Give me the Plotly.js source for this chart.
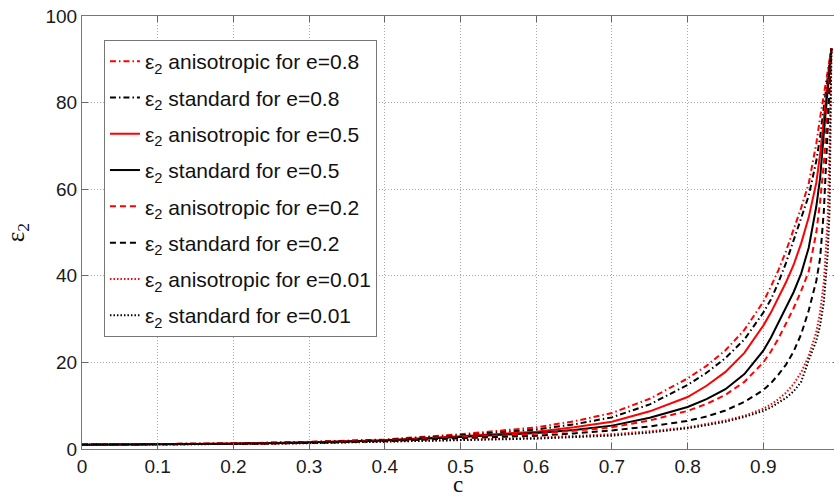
<!DOCTYPE html>
<html>
<head>
<meta charset="utf-8">
<script src="https://cdn.plot.ly/plotly-3.0.1.min.js"></script>
<style>
  html, body { margin: 0; padding: 0; overflow: hidden; background: #fff; }
  #chart { width: 840px; height: 493px; }
</style>
</head>
<body>
<div id="chart"></div>
<script>
// concentration c
const cValues = [0, 0.1, 0.2, 0.3, 0.4, 0.5, 0.6, 0.65, 0.7, 0.75, 0.8, 0.825, 0.85, 0.875, 0.9, 0.91, 0.92, 0.93, 0.94, 0.95, 0.96, 0.97, 0.975, 0.98, 0.985, 0.9875, 0.99];

// epsilon_2 values
const anisE08 = [1.0, 1.12, 1.3, 1.65, 2.2, 3.4, 5.0, 6.4, 8.3, 11.6, 16.3, 19.2, 22.8, 27.5, 34, 37.5, 41.3, 45.7, 50.5, 55.7, 61.3, 70.5, 76.5, 82, 87, 89.8, 92.5];
const stdE08  = [1.0, 1.1, 1.28, 1.6, 2.1, 3.15, 4.5, 5.7, 7.3, 10.3, 14.8, 17.6, 21, 25.3, 31.5, 34.5, 38.5, 43, 48, 53, 58.5, 66.5, 72, 79, 85.5, 89, 92.5];
const anisE05 = [1.0, 1.1, 1.25, 1.55, 2.0, 2.95, 4.0, 5.0, 6.3, 8.7, 12, 14.6, 17.8, 22.2, 28.5, 31.5, 35, 38.5, 42.5, 47.5, 53.5, 61.5, 68, 77, 84.5, 88.5, 92.5];
const stdE05  = [1.0, 1.08, 1.22, 1.5, 1.95, 2.8, 3.7, 4.4, 5.4, 7.2, 9.7, 11.5, 13.8, 17.3, 22.7, 25.7, 29.2, 32.6, 36.2, 40.5, 46.5, 56, 62.5, 73, 83, 87.8, 92.5];
const anisE02 = [1.0, 1.07, 1.2, 1.45, 1.9, 2.7, 3.5, 4.2, 5.0, 6.6, 8.8, 10.4, 12.5, 15.5, 20, 22.5, 25.5, 29, 32.5, 36.5, 41, 50, 57, 66, 79, 85.8, 92.5];
const stdE02  = [1.0, 1.06, 1.18, 1.4, 1.8, 2.5, 3.05, 3.6, 4.3, 5.2, 6.5, 7.5, 8.9, 10.9, 13.6, 15.2, 17.2, 19.5, 22.5, 26.5, 32, 38.8, 44, 55, 73, 82.5, 92.5];
const anisE001 = [1.0, 1.06, 1.17, 1.38, 1.7, 2.1, 2.6, 2.95, 3.4, 4.1, 5.0, 5.8, 6.6, 7.7, 9.3, 10.3, 11.5, 13, 15, 17.7, 21.5, 27, 31.5, 38.5, 53, 70, 92.5];
const stdE001  = [1.0, 1.05, 1.15, 1.35, 1.65, 2.0, 2.4, 2.75, 3.1, 3.8, 4.8, 5.5, 6.3, 7.4, 8.8, 9.6, 10.6, 11.8, 13.3, 15.5, 20.5, 25, 28.5, 34, 45, 55, 92.5];

const seriesNames = [
  'ε<sub>2</sub> anisotropic for e=0.8',
  'ε<sub>2</sub> standard for e=0.8',
  'ε<sub>2</sub> anisotropic for e=0.5',
  'ε<sub>2</sub> standard for e=0.5',
  'ε<sub>2</sub> anisotropic for e=0.2',
  'ε<sub>2</sub> standard for e=0.2',
  'ε<sub>2</sub> anisotropic for e=0.01',
  'ε<sub>2</sub> standard for e=0.01'
];
const seriesValues = [anisE08, stdE08, anisE05, stdE05, anisE02, stdE02, anisE001, stdE001];

const xTitle = 'c';
const yTitle = 'ε<sub>2</sub>';
const xTickVals = [0, 0.1, 0.2, 0.3, 0.4, 0.5, 0.6, 0.7, 0.8, 0.9, 1];
const xTickText = ['0', '0.1', '0.2', '0.3', '0.4', '0.5', '0.6', '0.7', '0.8', '0.9', ''];
const yTickVals = [0, 20, 40, 60, 80, 100];
const yTickText = ['0', '20', '40', '60', '80', '100'];

const RED = '#ff0000', BLACK = '#000000';
const DASHED = '6px,4px', DASHDOT = '6px,3px,1.5px,3px', DOTTED = '1.5px,2px';
const styles = [
  {color: RED, dash: DASHDOT},
  {color: BLACK, dash: DASHDOT},
  {color: RED, dash: 'solid'},
  {color: BLACK, dash: 'solid'},
  {color: RED, dash: DASHED},
  {color: BLACK, dash: DASHED},
  {color: RED, dash: DOTTED},
  {color: BLACK, dash: DOTTED}
];

const traces = seriesValues.map((vals, i) => ({
  type: 'scatter',
  mode: 'lines',
  x: cValues,
  y: vals,
  name: seriesNames[i],
  legendgroup: 'g' + i,
  line: {color: styles[i].color, dash: styles[i].dash, width: 2}
}));

const tickFont = {family: 'Liberation Sans, Arial, sans-serif', size: 19, color: '#1a1a1a'};
const serif = 'Liberation Serif, Times New Roman, serif';

const layout = {
  width: 840,
  height: 493,
  margin: {l: 82, r: 1, t: 16, b: 44},
  paper_bgcolor: '#ffffff',
  plot_bgcolor: '#ffffff',
  showlegend: true,
  xaxis: {
    range: [0, 1],
    tickvals: xTickVals,
    ticktext: xTickText,
    ticks: 'inside',
    ticklen: 6,
    tickcolor: '#666',
    showline: true,
    linecolor: '#777',
    linewidth: 1,
    mirror: 'ticks',
    showgrid: true,
    gridcolor: '#a8a8a8',
    griddash: '1px,2px',
    gridwidth: 1,
    zeroline: false,
    tickfont: tickFont
  },
  yaxis: {
    range: [0, 100],
    tickvals: yTickVals,
    ticktext: yTickText,
    ticks: 'inside',
    ticklen: 6,
    tickcolor: '#666',
    showline: true,
    linecolor: '#777',
    linewidth: 1,
    mirror: 'ticks',
    showgrid: true,
    gridcolor: '#a8a8a8',
    griddash: '1px,2px',
    gridwidth: 1,
    zeroline: false,
    tickfont: tickFont,
    title: {text: yTitle, font: {family: serif, size: 25, color: '#111'}, standoff: 13}
  },
  annotations: [{
    text: xTitle,
    xref: 'paper', yref: 'paper',
    x: 0.497, y: -0.083,
    xanchor: 'center', yanchor: 'middle',
    showarrow: false,
    borderpad: 0,
    font: {family: serif, size: 23, color: '#111'}
  }],
  legend: {
    x: 0.029,
    y: 0.9446,
    xanchor: 'left',
    yanchor: 'top',
    bgcolor: '#ffffff',
    bordercolor: '#777',
    borderwidth: 1,
    traceorder: 'grouped',
    tracegroupgap: 6,
    itemwidth: 30,
    font: {family: 'Liberation Sans, Arial, sans-serif', size: 21, color: '#111'}
  }
};

Plotly.newPlot('chart', traces, layout, {displayModeBar: false, staticPlot: true});
</script>
</body>
</html>
